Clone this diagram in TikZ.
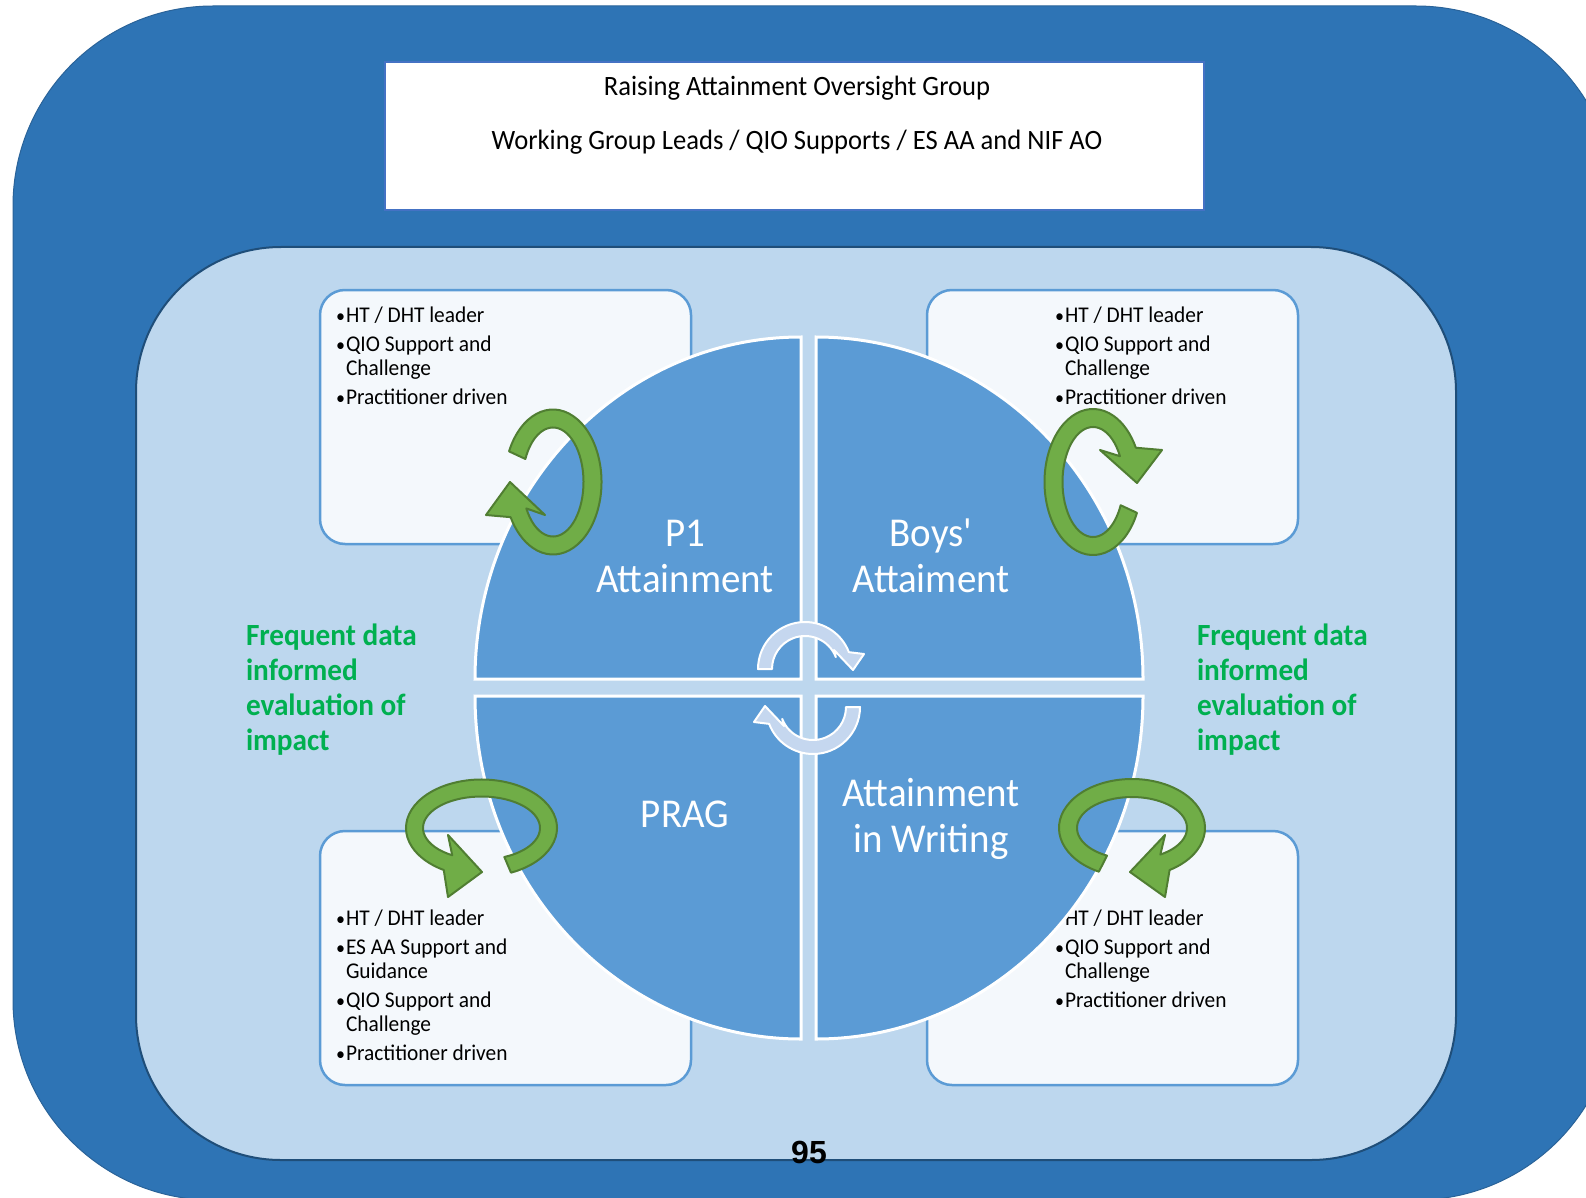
\documentclass[tikz,border=0pt]{standalone}
\usepackage{fontspec}
\setmainfont{Carlito}[FakeStretch=0.95]
\newfontfamily\plainfont{Carlito}[FakeStretch=0.95,Ligatures=TeXOff]
\newfontfamily\numfont{Liberation Sans}
\definecolor{outerblue}{HTML}{2E74B5}
\definecolor{outerline}{HTML}{2A6399}
\definecolor{lightbg}{HTML}{BDD7EE}
\definecolor{lightline}{HTML}{1F4E79}
\definecolor{titleline}{HTML}{4472C4}
\definecolor{boxfill}{HTML}{F4F8FC}
\definecolor{boxline}{HTML}{5B9BD5}
\definecolor{quadblue}{HTML}{5B9BD5}
\definecolor{garrowfill}{HTML}{70AD47}
\definecolor{garrowline}{HTML}{507E32}
\definecolor{carrowfill}{HTML}{C5D7EF}
\definecolor{greentext}{HTML}{00B050}
\def\hw{9}
\newcommand\bul{\makebox[10pt][l]{\fontsize{19}{19}\selectfont\textbullet}}
% style, cx, cy, rx, ry, s1, s2, head path
\newcommand\loopshape[8]{%
  \pgfmathsetmacro\rox{#4+\hw}\pgfmathsetmacro\roy{#5+\hw}%
  \pgfmathsetmacro\rix{#4-\hw}\pgfmathsetmacro\riy{#5-\hw}%
  \pgfmathsetmacro\pax{#2+\rox*cos(#6)}\pgfmathsetmacro\pay{#3+\roy*sin(#6)}%
  \pgfmathsetmacro\pbx{#2+\rix*cos(#7)}\pgfmathsetmacro\pby{#3+\riy*sin(#7)}%
  \draw[#1] (\pax,\pay)
    arc[start angle=#6,end angle=#7,x radius=\rox,y radius=\roy]
    -- #8 -- (\pbx,\pby)
    arc[start angle=#7,end angle=#6,x radius=\rix,y radius=\riy] -- cycle;}
\begin{document}
\begin{tikzpicture}[x=1pt,y=-1pt,
  every node/.style={inner sep=0pt,outer sep=0pt},
  quad/.style={fill=quadblue,draw=white,line width=3pt},
  infobox/.style={rectangle,fill=boxfill,draw=boxline,line width=2.5pt,rounded corners=25pt,minimum width=371pt,minimum height=254pt},
  garrow/.style={fill=garrowfill,draw=garrowline,line width=2pt,line join=round},
  carrow/.style={fill=carrowfill,draw=white,line width=2pt,line join=round},
  qlabel/.style={text=white,font=\fontsize{41}{46}\selectfont,anchor=base},
  glabel/.style={text=greentext,font=\bfseries\fontsize{30.8}{35}\selectfont,anchor=base west},
  btext/.style={font=\fontsize{22.5}{24}\selectfont,anchor=base west},
  htext/.style={font=\fontsize{28}{32}\selectfont,anchor=base},
]
\useasboundingbox (0,0) rectangle (1586,1198);
\fill[white] (0,0) rectangle (1586,1198);
% outer and inner panels
\draw[fill=outerblue,draw=outerline,line width=1pt,rounded corners=200pt] (13,6) rectangle (1616,1200);
\draw[fill=lightbg,draw=lightline,line width=2pt,rounded corners=145pt] (136,247) rectangle (1456,1160);
% title box
\node[rectangle,fill=white,draw=titleline,line width=2pt,minimum width=819pt,minimum height=148pt] (title) at (794.5,136) {};
\node[htext] (t1) at (797,96) {Raising Attainment Oversight Group};
\node[htext] (t2) at (797,150) {Working Group Leads / QIO Supports / ES AA and NIF AO};
% info boxes
\node[infobox] (boxTL) at (505.5,417) {};
\node[infobox] (boxTR) at (1112.5,417) {};
\node[infobox] (boxBL) at (505.5,958) {};
\node[infobox] (boxBR) at (1112.5,958) {};
\node[btext] (lTL) at (336,322) {\begin{tabular}[t]{@{}l@{}l@{}}\bul&HT / DHT leader\\[5pt]\bul&QIO Support and\\&Challenge\\[5pt]\bul&Practitioner driven\end{tabular}};
\node[btext] (lTR) at (1055,322) {\begin{tabular}[t]{@{}l@{}l@{}}\bul&HT / DHT leader\\[5pt]\bul&QIO Support and\\&Challenge\\[5pt]\bul&Practitioner driven\end{tabular}};
\node[btext] (lBL) at (336,925) {\begin{tabular}[t]{@{}l@{}l@{}}\bul&HT / DHT leader\\[5pt]\bul&ES AA Support and\\&Guidance\\[5pt]\bul&QIO Support and\\&Challenge\\[5pt]\bul&Practitioner driven\end{tabular}};
\node[btext] (lBR) at (1055,925) {\begin{tabular}[t]{@{}l@{}l@{}}\bul&HT / DHT leader\\[5pt]\bul&QIO Support and\\&Challenge\\[5pt]\bul&Practitioner driven\end{tabular}};
% quadrants
\draw[quad] (801,679) -- (475,679) arc[start angle=180,end angle=270,x radius=326,y radius=342] -- cycle;
\draw[quad] (816,679) -- (816,337) arc[start angle=270,end angle=360,x radius=327,y radius=342] -- cycle;
\draw[quad] (801,696) -- (475,696) arc[start angle=180,end angle=90,x radius=326,y radius=343] -- cycle;
\draw[quad] (816,696) -- (1143,696) arc[start angle=0,end angle=90,x radius=327,y radius=343] -- cycle;
\node[qlabel] (qTL) at (685,546) {\begin{tabular}[t]{@{}c@{}}P1\\Attainment\end{tabular}};
\node[qlabel] (qTR) at (931,546) {\begin{tabular}[t]{@{}c@{}}{\plainfont Boys'}\\Attaiment\end{tabular}};
\node[qlabel] (qBL) at (685,827) {PRAG};
\node[qlabel] (qBR) at (931,806) {\begin{tabular}[t]{@{}c@{}}Attainment\\in Writing\end{tabular}};
% centre arrows
\def\hw{7}
\loopshape{carrow}{805}{669}{40}{40}{180}{339}{(864,654) -- (853,670) -- (834,650)}
\loopshape{carrow}{813}{707}{40}{40}{0}{159}{(754,722) -- (765,706) -- (784,726)}
% green arrows
\def\hw{9}
\loopshape{garrow}{553}{482}{39.5}{63.5}{205}{511}{(486,515) -- (510,482) -- (545,515)}
\loopshape{garrow}{1093}{482}{39.5}{64}{25}{332}{(1162,450) -- (1137,483) -- (1100,450)}
\def\hw{8.5}
\loopshape{garrow}{481.5}{828}{67}{40}{67}{-240}{(448,897) -- (482,872) -- (448,835)}
\def\hw{9}
\loopshape{garrow}{1132}{828}{64}{40}{117}{419}{(1165,897) -- (1130,872) -- (1165,835)}
% green labels
\node[glabel] (gL) at (246,645) {\begin{tabular}[t]{@{}l@{}}Frequent data\\informed\\evaluation of\\impact\end{tabular}};
\node[glabel] (gR) at (1197,645) {\begin{tabular}[t]{@{}l@{}}Frequent data\\informed\\evaluation of\\impact\end{tabular}};
% page number
\node[font=\numfont\bfseries\fontsize{32}{36}\selectfont,anchor=base] (pnum) at (809,1163) {95};
\end{tikzpicture}
\end{document}
